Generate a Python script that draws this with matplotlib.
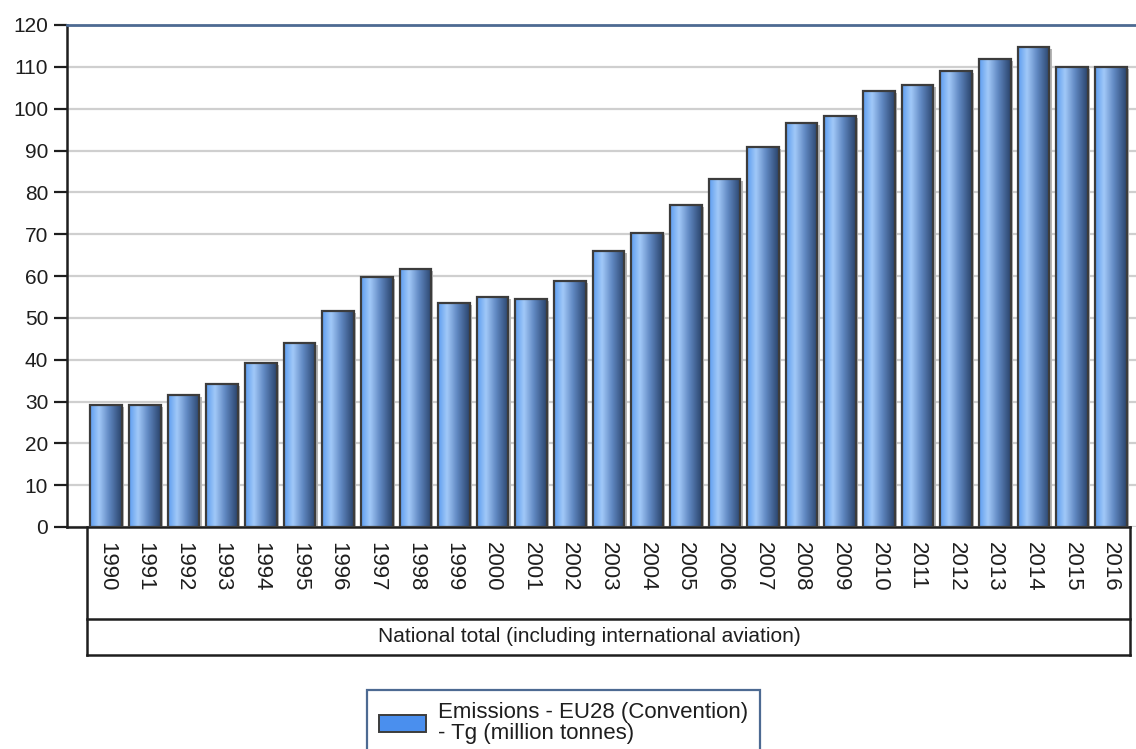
import matplotlib.pyplot as plt
import numpy as np
from matplotlib.colors import LinearSegmentedColormap
from matplotlib.patches import Rectangle
from matplotlib.lines import Line2D

plt.rcParams['font.family'] = ['Liberation Sans', 'DejaVu Sans']

years = [str(y) for y in range(1990, 2017)]
emissions = [29.2, 29.2, 31.5, 34.3, 39.2, 44.0, 51.6, 59.8, 61.7, 53.5,
             55.0, 54.5, 58.8, 66.0, 70.3, 77.0, 83.2, 90.8, 96.6, 98.2,
             104.2, 105.7, 109.0, 111.9, 114.7, 110.0, 110.0]
y_ticks = list(range(0, 121, 10))
group_label = 'National total (including international aviation)'
legend_label = 'Emissions - EU28 (Convention)\n- Tg (million tonnes)'

W, H = 1136, 749
fig = plt.figure(figsize=(W / 100, H / 100), dpi=100)
ax = fig.add_axes([67 / W, 1 - 527 / H, 1 - 67 / W, (527 - 25) / H])

x = np.arange(len(years))
xlim = (-0.5 - 20 / 38.67, len(years) - 0.5 + 6 / 38.67)

# gradient used to fill each bar (light on the left, dark navy on the right)
grad = LinearSegmentedColormap.from_list(
    'bar', [(0, '#5e9ef0'), (0.28, '#a2c9f8'), (0.6, '#6088c2'), (1, '#2a446c')])
gimg = np.linspace(0, 1, 64).reshape(1, -1)

width = 0.82
# soft shadow behind bars
ax.bar(x + 0.06, emissions, width=width, bottom=-0.5, color='#b5b5b5',
       edgecolor='none', zorder=2)
bars = ax.bar(x, emissions, width=width, color='none', edgecolor='#3c3c3c',
              linewidth=1.6, zorder=4)
for b in bars:
    x0, w, h = b.get_x(), b.get_width(), b.get_height()
    im = ax.imshow(gimg, cmap=grad, aspect='auto', extent=(x0, x0 + w, 0, h),
                   zorder=3, interpolation='bicubic')
    im.set_clip_path(b)
ax.set_xlim(*xlim)
ax.set_ylim(0, 120)

# grid and spines
ax.set_yticks(y_ticks)
ax.yaxis.grid(True, color='#cfcfcf', linewidth=1.6, zorder=0)
ax.set_axisbelow(True)
ax.spines['right'].set_visible(False)
ax.spines['top'].set_color('#4d6a92')
ax.spines['top'].set_linewidth(2)
ax.spines['left'].set_color('#1e1e1e')
ax.spines['left'].set_linewidth(1.8)
ax.spines['bottom'].set_color('#1e1e1e')
ax.spines['bottom'].set_linewidth(1.8)
ax.spines['bottom'].set_bounds(xlim[0], len(years) - 0.5)

ax.tick_params(axis='y', length=9.5, width=1.6, pad=4, labelsize=15,
               color='#1e1e1e', labelcolor='#1e1e1e')
ax.set_xticks(x)
ax.set_xticklabels(years, rotation=270, fontsize=16, color='#1e1e1e')
ax.tick_params(axis='x', length=0, pad=11)

# category table under the axis
tr = ax.get_xaxis_transform()
xl, xr = -0.5, len(years) - 0.5
y_mid = -(619 - 527) / 502
y_bot = -(655 - 527) / 502
for xs, ys in [([xl, xl], [0, y_bot]), ([xr, xr], [0, y_bot]),
               ([xl, xr], [y_mid, y_mid]), ([xl, xr], [y_bot, y_bot])]:
    ax.add_line(Line2D(xs, ys, transform=tr, color='#1e1e1e', linewidth=1.8,
                       clip_on=False))
ax.text((len(years) - 1) / 2 - 0.5, (y_mid + y_bot) / 2, group_label,
        transform=tr, ha='center', va='center', fontsize=15, color='#1e1e1e')

# legend
handle = Rectangle((0, 0), 1, 1, facecolor='#4a8fee', edgecolor='#3c3c3c',
                   linewidth=1.4)
leg = fig.legend([handle], [legend_label], loc='upper left',
                 bbox_to_anchor=(367 / W, 1 - 690 / H), fontsize=16,
                 frameon=True, fancybox=False, edgecolor='#4d6a92',
                 framealpha=1, borderaxespad=0, handlelength=2.1,
                 handleheight=0.85, handletextpad=0.55, borderpad=0.55,
                 labelspacing=0.2)
leg.get_frame().set_linewidth(1.6)
for t in leg.get_texts():
    t.set_linespacing(1.0)
    t.set_color('#1e1e1e')

fig.savefig('out.png', dpi=100)
